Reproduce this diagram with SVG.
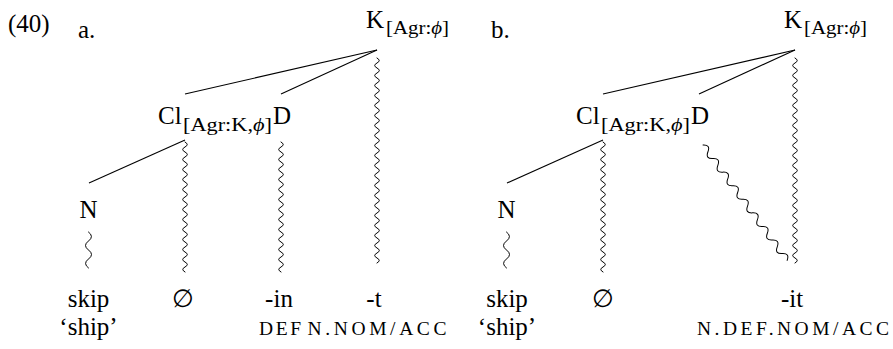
<svg xmlns="http://www.w3.org/2000/svg" width="893" height="349" viewBox="0 0 893 349">
<style>
text{font-family:'Liberation Serif','DejaVu Serif',serif;fill:#000;}
.m{font-size:25px;}
.s{font-size:19px;}
.sc{font-size:19.5px;}
.c{text-anchor:middle;}
.phi{font-style:italic;}
.edge{stroke:#000;stroke-width:1.1;fill:none;}
.wave{stroke:#000;stroke-width:1;fill:none;stroke-linecap:round;}
</style>
<defs>
<path id="w41" class="wave" d="M0 0q4.6 2.5 0 5t0 5 0 5 0 5 0 5 0 5 0 5 0 5 0 5 0 5 0 5 0 5 0 5 0 5 0 5 0 5 0 5 0 5 0 5 0 5 0 5 0 5 0 5 0 5 0 5 0 5 0 5 0 5 0 5 0 5 0 5 0 5 0 5 0 5 0 5 0 5 0 5 0 5 0 5 0 5 0 5"/>
<path id="w26" class="wave" d="M0 0q4.6 2.5 0 5t0 5 0 5 0 5 0 5 0 5 0 5 0 5 0 5 0 5 0 5 0 5 0 5 0 5 0 5 0 5 0 5 0 5 0 5 0 5 0 5 0 5 0 5 0 5 0 5 0 5"/>
<path id="wD" class="wave" d="M0 0q6.5 4.2 0 8.4t0 8.4 0 8.4 0 8.4 0 8.4 0 8.4 0 8.4 0 8.4 0 8.4 0 8.4 0 8.4 0 8.4 0 8.4 0 8.4 0 8.4 0 8.4 0 8.4"/>
<path id="wN" class="wave" d="M0 0q6 4.5 0 9t0 9 0 9 0 9"/>
</defs>

<g id="labels">
<text class="m" x="8" y="32">(40)</text>
<text class="m" x="78" y="38">a.</text>
<text class="m" x="491" y="38">b.</text>
</g>

<g id="connectors">
<line class="edge" x1="377" y1="50" x2="185" y2="94"/>
<line class="edge" x1="377" y1="50" x2="281" y2="94"/>
<line class="edge" x1="185" y1="140" x2="89" y2="183"/>
<use href="#w41" x="377" y="58"/>
<use href="#w26" x="185" y="142"/>
<use href="#w26" x="281" y="142"/>
<use href="#wN" x="88.5" y="232"/>
<line class="edge" x1="795" y1="50" x2="603" y2="94"/>
<line class="edge" x1="795" y1="50" x2="699" y2="94"/>
<line class="edge" x1="603" y1="140" x2="507" y2="183"/>
<use href="#w41" x="795" y="58"/>
<use href="#w26" x="603" y="142"/>
<use href="#wN" x="506.5" y="232"/>
<use href="#wD" transform="translate(703 145) rotate(-36.1)"/>
</g>

<g id="a-K"><text class="m" x="366" y="28">K</text><text class="s" x="386" y="34" textLength="63" lengthAdjust="spacingAndGlyphs">[Agr:<tspan class="phi">ϕ</tspan>]</text></g>
<g id="a-ClD"><text class="m" x="158" y="124">Cl</text><text class="s" x="183" y="131" textLength="89" lengthAdjust="spacingAndGlyphs">[Agr:K,<tspan class="phi">ϕ</tspan>]</text><text class="m" x="273" y="124">D</text></g>
<g id="a-N"><text class="m c" x="88.5" y="218">N</text></g>
<g id="a-skip"><text class="m c" x="88.5" y="307">skip</text><text class="m c" x="88.5" y="335">‘ship’</text></g>
<g id="a-null"><text class="m c" x="183" y="307">∅</text></g>
<g id="a-in"><text class="m c" x="279" y="307">-in</text><text class="sc c" x="280" y="335" textLength="42">DEF</text></g>
<g id="a-t"><text class="m c" x="374" y="307">-t</text><text class="sc c" x="377" y="335" textLength="139">N.NOM/ACC</text></g>

<g id="b-K"><text class="m" x="784" y="28">K</text><text class="s" x="804" y="34" textLength="63" lengthAdjust="spacingAndGlyphs">[Agr:<tspan class="phi">ϕ</tspan>]</text></g>
<g id="b-ClD"><text class="m" x="576" y="124">Cl</text><text class="s" x="601" y="131" textLength="89" lengthAdjust="spacingAndGlyphs">[Agr:K,<tspan class="phi">ϕ</tspan>]</text><text class="m" x="691" y="124">D</text></g>
<g id="b-N"><text class="m c" x="506.5" y="218">N</text></g>
<g id="b-skip"><text class="m c" x="507" y="307">skip</text><text class="m c" x="507" y="335">‘ship’</text></g>
<g id="b-null"><text class="m c" x="603" y="307">∅</text></g>
<g id="b-it"><text class="m c" x="792" y="307">-it</text><text class="sc c" x="793" y="335" textLength="192">N.DEF.NOM/ACC</text></g>
</svg>
